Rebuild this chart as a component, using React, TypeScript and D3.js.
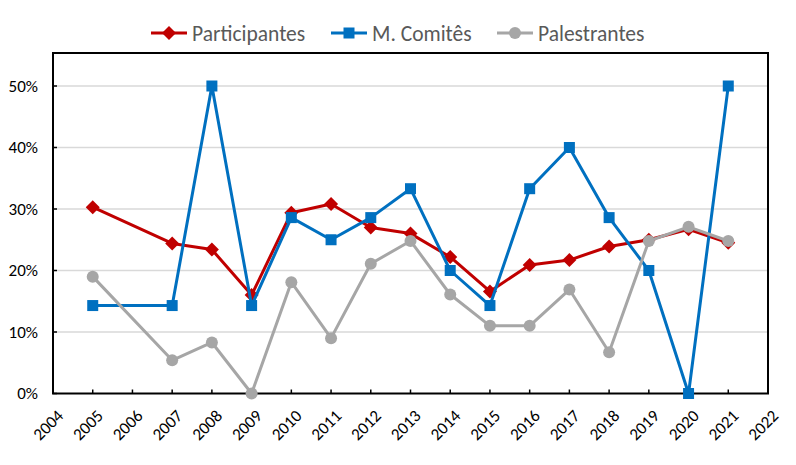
import React from "react";
import * as d3 from "d3";

const years = [2005, 2007, 2008, 2009, 2010, 2011, 2012, 2013, 2014, 2015, 2016, 2017, 2018, 2019, 2020, 2021];
const participantes = [0.303, 0.244, 0.234, 0.16, 0.294, 0.308, 0.27, 0.26, 0.222, 0.166, 0.209, 0.217, 0.239, 0.25, 0.267, 0.245];
const comites = [0.143, 0.143, 0.5, 0.143, 0.286, 0.25, 0.286, 0.333, 0.2, 0.143, 0.333, 0.4, 0.286, 0.2, 0, 0.5];
const palestrantes = [0.19, 0.054, 0.083, 0, 0.181, 0.09, 0.211, 0.248, 0.161, 0.11, 0.11, 0.169, 0.067, 0.248, 0.271, 0.248];
const xTicks = d3.range(2004, 2023);
const yTicks = [0, 0.1, 0.2, 0.3, 0.4, 0.5];

const W = 796;
const H = 465;
const left = 53;
const right = 768;
const top = 53;
const bottom = 393.5;
const font = "Calibri, Carlito, Lato, sans-serif";

const series = [
  { name: "Participantes", values: participantes, color: "#c00000", shape: "diamond" },
  { name: "M. Comitês", values: comites, color: "#0070c0", shape: "square" },
  { name: "Palestrantes", values: palestrantes, color: "#a6a6a6", shape: "circle" },
];

const legendX = [151, 331, 497];

function Marker({ shape, x, y, color }: { shape: string; x: number; y: number; color: string }) {
  if (shape === "diamond") {
    return <path d={`M${x},${y - 7}L${x + 7},${y}L${x},${y + 7}L${x - 7},${y}Z`} fill={color} />;
  }
  if (shape === "square") {
    return <rect x={x - 5.5} y={y - 5.5} width={11} height={11} fill={color} />;
  }
  return <circle cx={x} cy={y} r={6} fill={color} />;
}

export default function App() {
  const x = d3.scaleLinear().domain([2004, 2022]).range([left, right]);
  const y = d3.scaleLinear().domain([0, 0.5]).range([bottom, 86]);
  const line = d3
    .line<number>()
    .x((_, i) => x(years[i]))
    .y((d) => y(d));

  return (
    <svg
      width={W}
      height={H}
      style={{ position: "absolute", left: 0, top: 0, background: "#fff" }}
      fontFamily={font}
    >
      {/* gridlines */}
      {yTicks.slice(1).map((t) => (
        <line key={t} x1={left} x2={right} y1={y(t)} y2={y(t)} stroke="#d9d9d9" strokeWidth={1.5} />
      ))}

      {/* y axis labels + ticks */}
      {yTicks.map((t) => (
        <g key={t}>
          <line x1={left} x2={left + 4} y1={y(t)} y2={y(t)} stroke="#000" strokeWidth={1.5} />
          <text x={38} y={y(t)} dy="0.35em" textAnchor="end" fontSize={17} fill="#000">
            {d3.format(".0%")(t)}
          </text>
        </g>
      ))}

      {/* x axis labels + ticks */}
      {xTicks.map((t) => (
        <g key={t}>
          <line x1={x(t)} x2={x(t)} y1={bottom} y2={bottom - 4} stroke="#000" strokeWidth={1.5} />
          <text
            transform={`translate(${x(t) + 3},${bottom + 15}) rotate(-45)`}
            textAnchor="end"
            dy="0.7em"
            fontSize={17}
            fill="#000"
          >
            {t}
          </text>
        </g>
      ))}

      {/* frame */}
      <rect x={left} y={top} width={right - left} height={bottom - top} fill="none" stroke="#000" strokeWidth={2} />

      {/* series */}
      {series.map((s) => (
        <g key={s.name}>
          <path d={line(s.values) ?? ""} fill="none" stroke={s.color} strokeWidth={3} strokeLinejoin="round" />
          {s.values.map((v, i) => (
            <Marker key={i} shape={s.shape} x={x(years[i])} y={y(v)} color={s.color} />
          ))}
        </g>
      ))}

      {/* legend */}
      {series.map((s, i) => (
        <g key={s.name} transform={`translate(${legendX[i]},33)`}>
          <line x1={0} x2={36} y1={0} y2={0} stroke={s.color} strokeWidth={3} />
          <Marker shape={s.shape} x={18} y={0} color={s.color} />
          <text x={41} y={0} dy="0.35em" fontSize={21.5} fill="#595959">
            {s.name}
          </text>
        </g>
      ))}
    </svg>
  );
}
